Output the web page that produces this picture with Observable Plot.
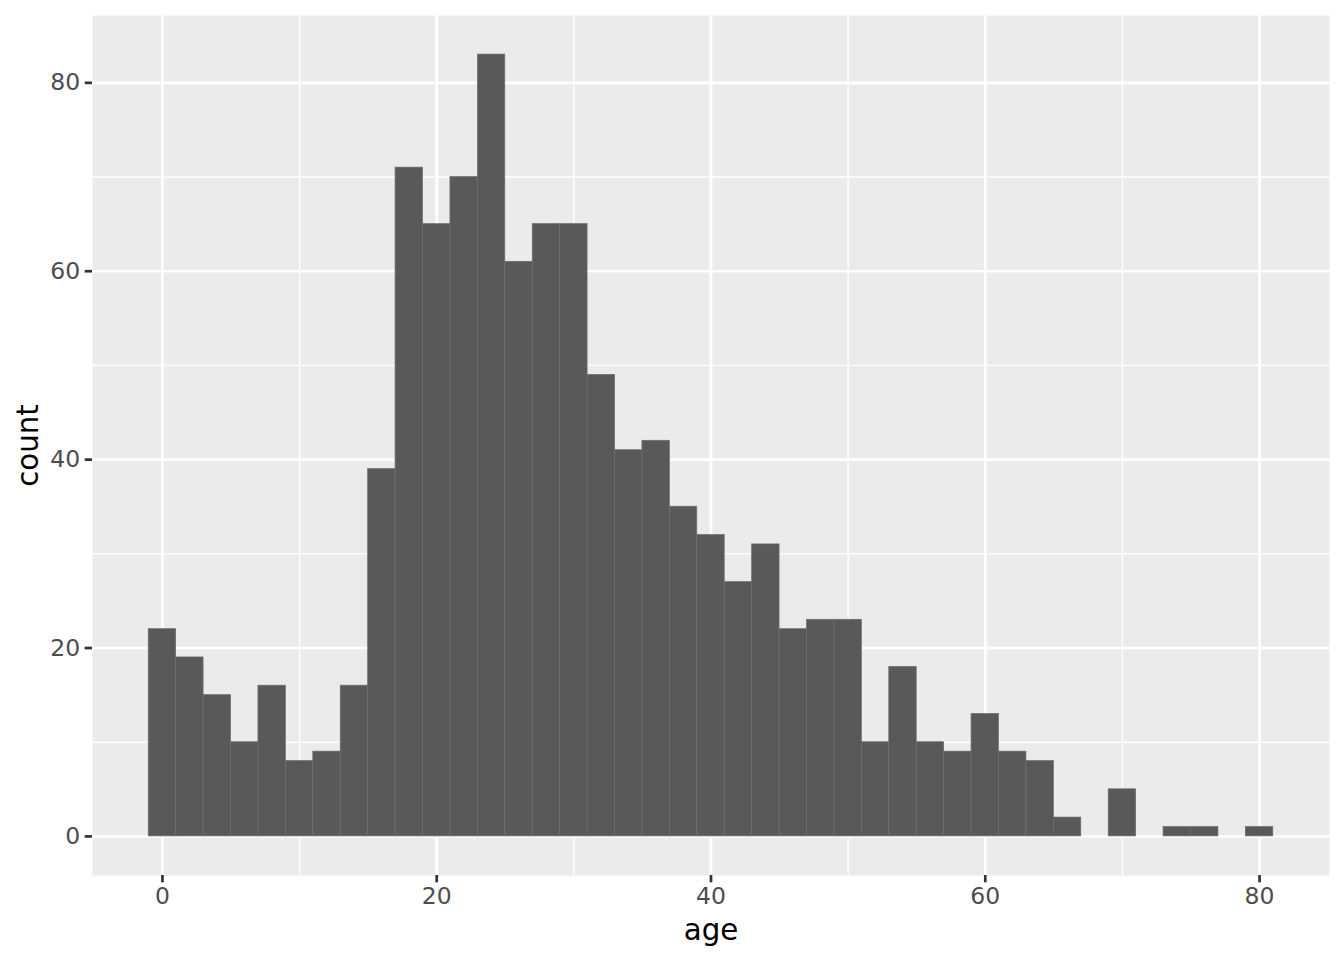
<!DOCTYPE html>
<html>
<head>
<meta charset="utf-8">
<script src="https://cdn.jsdelivr.net/npm/d3@7"></script>
<script src="https://cdn.jsdelivr.net/npm/@observablehq/plot@0.6"></script>
<style>
  html, body { margin: 0; padding: 0; background: #ffffff; }
  #chart svg { display: block; }
</style>
</head>
<body>
<div id="chart"></div>
<script>
// Histogram bin centers (binwidth 2) and counts
const binCenters = [0, 2, 4, 6, 8, 10, 12, 14, 16, 18, 20, 22, 24, 26, 28, 30, 32, 34, 36, 38, 40,
  42, 44, 46, 48, 50, 52, 54, 56, 58, 60, 62, 64, 66, 68, 70, 72, 74, 76, 78, 80];
const counts = [22, 19, 15, 10, 16, 8, 9, 16, 39, 71, 65, 70, 83, 61, 65, 65, 49, 41, 42, 35, 32,
  27, 31, 22, 23, 23, 10, 18, 10, 9, 13, 9, 8, 2, 0, 5, 0, 1, 1, 0, 1];
const binWidth = 2;
const xMajor = [0, 20, 40, 60, 80];
const xMinor = [10, 30, 50, 70];
const yMajor = [0, 20, 40, 60, 80];
const yMinor = [10, 30, 50, 70];

const bins = binCenters.map((c, i) => ({x1: c - binWidth / 2, x2: c + binWidth / 2, count: counts[i]}))
  .filter(d => d.count > 0);

const xmin = -1, xmax = 81, ymax = d3.max(counts);
const xpad = (xmax - xmin) * 0.05, ypad = ymax * 0.05;

const chart = Plot.plot({
  width: 1344,
  height: 960,
  marginLeft: 92,
  marginRight: 15,
  marginTop: 15,
  marginBottom: 85,
  style: {fontFamily: "DejaVu Sans, sans-serif", background: "#ffffff"},
  x: {domain: [xmin - xpad, xmax + xpad]},
  y: {domain: [0 - ypad, ymax + ypad]},
  marks: [
    Plot.frame({fill: "#EBEBEB", stroke: null}),
    Plot.ruleX(xMinor, {stroke: "#ffffff", strokeWidth: 1.35}),
    Plot.ruleY(yMinor, {stroke: "#ffffff", strokeWidth: 1.35}),
    Plot.ruleX(xMajor, {stroke: "#ffffff", strokeWidth: 2.7}),
    Plot.ruleY(yMajor, {stroke: "#ffffff", strokeWidth: 2.7}),
    Plot.rectY(bins, {x1: "x1", x2: "x2", y1: 0, y2: "count", fill: "#595959", stroke: "#6e6e6e", strokeWidth: 0.7, inset: 0}),
    Plot.axisX(xMajor, {tickSize: 7.3, tickPadding: 5, fontSize: 23.5, stroke: "#333333", strokeWidth: 2.7, fill: "#4D4D4D", label: null, tickFormat: d => String(d)}),
    Plot.axisY(yMajor, {tickSize: 7.3, tickPadding: 5, fontSize: 23.5, stroke: "#333333", strokeWidth: 2.7, fill: "#4D4D4D", label: null, tickFormat: d => String(d)}),
    Plot.text(["age"], {frameAnchor: "bottom", dy: 55, fontSize: 29.3, fill: "#000000", textAnchor: "middle", lineAnchor: "middle"}),
    Plot.text(["count"], {frameAnchor: "left", dx: -64, rotate: -90, fontSize: 29.3, fill: "#000000", textAnchor: "middle", lineAnchor: "middle"})
  ]
});
document.getElementById("chart").appendChild(chart);
</script>
</body>
</html>
